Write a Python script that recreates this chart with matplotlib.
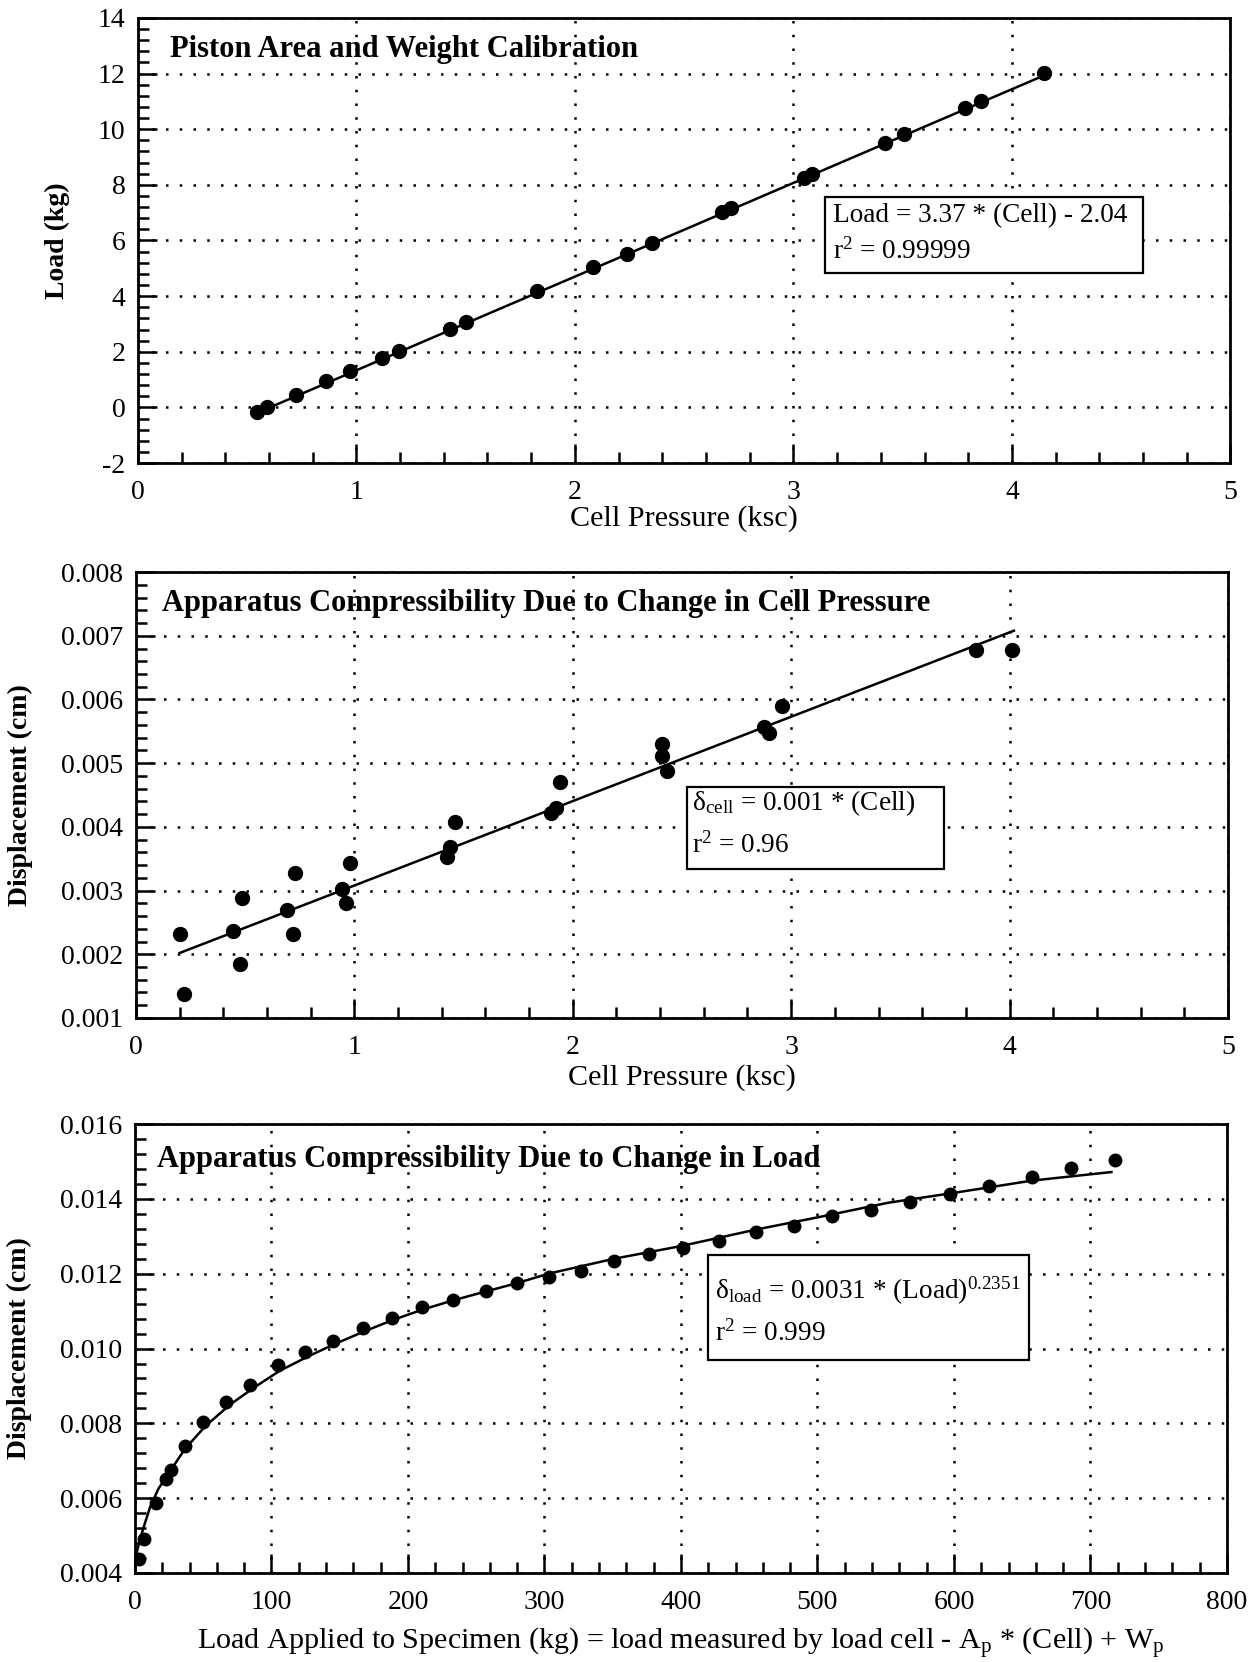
import matplotlib
matplotlib.use("Agg")
import matplotlib.pyplot as plt
from matplotlib.patches import Rectangle
from matplotlib.ticker import MultipleLocator, FormatStrFormatter

plt.rcParams['font.family'] = ['Liberation Serif', 'DejaVu Serif']
plt.rcParams['mathtext.fontset'] = 'custom'
plt.rcParams['mathtext.rm'] = 'Liberation Serif'
plt.rcParams['mathtext.it'] = 'Liberation Serif:italic'
plt.rcParams['mathtext.bf'] = 'Liberation Serif:bold'
plt.rcParams['axes.unicode_minus'] = False

# ---------------- Data ----------------
# Panel 1: Piston area and weight calibration
p1_cell = [0.545, 0.59, 0.723, 0.862, 0.972, 1.117, 1.193, 1.43, 1.50, 1.828,
           2.083, 2.24, 2.355, 2.672, 2.715, 3.05, 3.083, 3.42, 3.507, 3.786,
           3.86, 4.146]
p1_load = [-0.15, 0.0, 0.44, 0.94, 1.31, 1.79, 2.03, 2.83, 3.07, 4.2,
           5.04, 5.52, 5.9, 7.01, 7.16, 8.26, 8.38, 9.52, 9.84, 10.77,
           11.03, 12.02]
p1_fit_x = [0.545, 4.146]
p1_fit_y = [-0.20, 11.93]

# Panel 2: compressibility due to cell pressure
p2_cell = [0.20, 0.22, 0.443, 0.475, 0.485, 0.693, 0.72, 0.727, 0.943, 0.962,
           0.981, 1.426, 1.436, 1.46, 1.90, 1.924, 1.943, 2.407, 2.407, 2.43,
           2.878, 2.90, 2.958, 3.848, 4.013]
p2_disp = [0.00232, 0.00138, 0.00237, 0.00185, 0.00289, 0.00270, 0.00232, 0.00327,
           0.00303, 0.00281, 0.00343, 0.00352, 0.00369, 0.00407, 0.00421, 0.00430,
           0.00471, 0.00530, 0.00511, 0.00487, 0.00556, 0.00548, 0.00590, 0.00678,
           0.00678]
p2_fit_x = [0.20, 4.02]
p2_fit_y = [0.00202, 0.00708]

# Panel 3: compressibility due to load
p3_load = [3, 6.6, 15.7, 22.4, 26.3, 36.9, 50.2, 67, 84.6, 104.8, 124.5, 145,
           166.8, 188.5, 210.6, 233, 257, 280, 303.6, 326.9, 351, 376.3, 401.5,
           427.7, 454.8, 483, 510.8, 539.4, 567.7, 597, 626, 657, 686, 717.8]
p3_disp = [0.00436, 0.00492, 0.00587, 0.00651, 0.00674, 0.00740, 0.00804, 0.00856,
           0.00903, 0.00957, 0.00992, 0.01021, 0.01054, 0.01082, 0.01110, 0.01129,
           0.01153, 0.01176, 0.01190, 0.01208, 0.01233, 0.01252, 0.01268, 0.01288,
           0.01313, 0.01327, 0.01355, 0.01371, 0.01393, 0.01413, 0.01436, 0.01460,
           0.01484, 0.01505]
p3_fit_x = [1.2, 3.6, 6.6, 11.2, 17.2, 24.8, 36.9, 52, 70, 88.2, 106.3, 127.5,
            145.6, 166.8, 187.9, 210.6, 233.2, 257.4, 280, 302.7, 350.8, 400,
            454.8, 499, 552, 599.4, 657, 715.4]
p3_fit_y = [0.00453, 0.00488, 0.00525, 0.00577, 0.00625, 0.00667, 0.00733, 0.00794,
            0.00851, 0.00898, 0.00941, 0.00980, 0.01011, 0.01044, 0.01075, 0.01104,
            0.01129, 0.01153, 0.01175, 0.01200, 0.01240, 0.01274, 0.01318, 0.01350,
            0.01390, 0.01416, 0.01449, 0.01472]

titles = ["Piston Area and Weight Calibration",
          "Apparatus Compressibility Due to Change in Cell Pressure",
          "Apparatus Compressibility Due to Change in Load"]
xlabels = ["Cell Pressure (ksc)", "Cell Pressure (ksc)",
           r"Load Applied to Specimen (kg) = load measured by load cell - A$_\mathregular{p}$ * (Cell) + W$_\mathregular{p}$"]
ylabels = ["Load (kg)", "Displacement (cm)", "Displacement (cm)"]
eq_lines = [["Load = 3.37 * (Cell) - 2.04", r"r$^\mathregular{2}$ = 0.99999"],
            [r"δ$_\mathregular{cell}$ = 0.001 * (Cell)", r"r$^\mathregular{2}$ = 0.96"],
            [r"δ$_\mathregular{load}$ = 0.0031 * (Load)$^\mathregular{0.2351}$", r"r$^\mathregular{2}$ = 0.999"]]

# ---------------- Figure ----------------
fig = plt.figure(figsize=(12.53, 16.62), dpi=100)
rects = [[0.110, 0.7214, 0.872, 0.2678],
         [0.1085, 0.3875, 0.8715, 0.2683],
         [0.1077, 0.0536, 0.8715, 0.2700]]
axes = [fig.add_axes(r) for r in rects]

TICK_FS = 20
XLABEL_FS = 21.7
YLABEL_FS = 20
TITLE_FS = 22
EQ_FS = 19.6
dot_style = (0, (1.0, 4.5))


def style(ax, xlim, ylim, xmaj, xmin, ymaj, ymin, yfmt):
    ax.set_xlim(*xlim)
    ax.set_ylim(*ylim)
    ax.xaxis.set_major_locator(MultipleLocator(xmaj))
    ax.xaxis.set_minor_locator(MultipleLocator(xmin))
    ax.yaxis.set_major_locator(MultipleLocator(ymaj))
    ax.yaxis.set_minor_locator(MultipleLocator(ymin))
    if yfmt:
        ax.yaxis.set_major_formatter(FormatStrFormatter(yfmt))
    ax.tick_params(which='both', direction='in', top=False, right=False,
                   labelsize=TICK_FS, width=1.8)
    ax.tick_params(which='major', length=14, pad=9)
    ax.tick_params(which='minor', length=8)
    ax.tick_params(axis='x', which='major', pad=12)
    for s in ax.spines.values():
        s.set_linewidth(2.0)
    ax.grid(True, which='major', color='black', linestyle=dot_style, linewidth=1.8)
    ax.set_axisbelow(True)


ax1, ax2, ax3 = axes
style(ax1, (0, 5), (-2, 14), 1, 0.2, 2, 0.4, None)
style(ax2, (0, 5), (0.001, 0.008), 1, 0.2, 0.001, 0.0002, '%.3f')
style(ax3, (0, 800), (0.004, 0.016), 100, 20, 0.002, 0.0004, '%.3f')

# Data
ax1.plot(p1_fit_x, p1_fit_y, color='black', lw=1.8, zorder=3)
ax1.plot(p1_cell, p1_load, 'o', color='black', ms=10, zorder=4)
ax2.plot(p2_fit_x, p2_fit_y, color='black', lw=1.8, zorder=3)
ax2.plot(p2_cell, p2_disp, 'o', color='black', ms=10, zorder=4)
ax3.plot(p3_fit_x, p3_fit_y, color='black', lw=1.8, zorder=3)
ax3.plot(p3_load, p3_disp, 'o', color='black', ms=9, zorder=4)

# Titles inside axes
title_pos = [(0.029, 0.930), (0.024, 0.930), (0.020, 0.922)]
for ax, t, (tx, ty) in zip(axes, titles, title_pos):
    ax.text(tx, ty, t, transform=ax.transAxes, fontsize=TITLE_FS,
            fontweight='bold', ha='left', va='center', zorder=5)

# Equation boxes (data-coordinate boxes)
boxes = [((3.146, 4.82), 1.454, 2.74, 3.18, (6.91, 5.62)),
         ((2.524, 0.003333), 1.176, 0.0013, 2.544, (0.004367, 0.003717)),
         ((420, 0.00969), 235, 0.00281, 424.8, (0.01153, 0.01040))]
for ax, (xy, w, h, tx, tys), lines in zip(axes, boxes, eq_lines):
    ax.add_patch(Rectangle(xy, w, h, facecolor='white', edgecolor='black',
                           linewidth=1.6, zorder=6))
    for ty, line in zip(tys, lines):
        ax.text(tx, ty, line, fontsize=EQ_FS, ha='left', va='center', zorder=7)

# Axis labels
ylab_x = [-0.062, -0.094, -0.094]
xlab_y = [-0.094, -0.103, -0.118]
for ax, xl, yl, yx, xy_ in zip(axes, xlabels, ylabels, ylab_x, xlab_y):
    ax.set_xlabel(xl, fontsize=XLABEL_FS)
    ax.set_ylabel(yl, fontsize=YLABEL_FS, fontweight='bold')
    ax.yaxis.set_label_coords(yx, 0.5)
    ax.xaxis.set_label_coords(0.5, xy_)

fig.savefig("out.png", dpi=100, facecolor='white')
